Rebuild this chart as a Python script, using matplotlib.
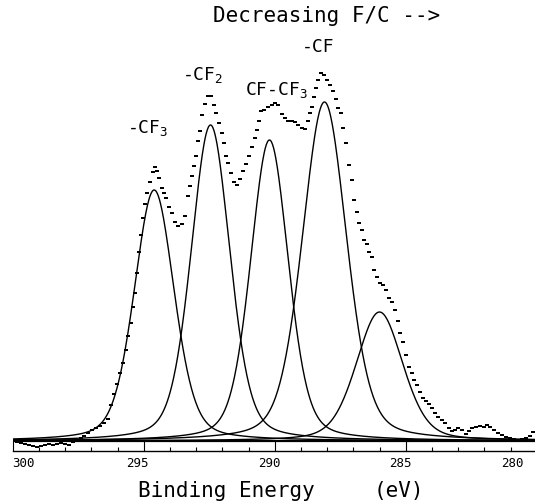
import numpy as np
import matplotlib
matplotlib.use("Agg")
import matplotlib.pyplot as plt
from matplotlib.transforms import ScaledTranslation

plt.rcParams['font.family'] = ['DejaVu Sans Mono', 'DejaVu Sans']
plt.rcParams['mathtext.fontset'] = 'custom'
plt.rcParams['mathtext.rm'] = 'DejaVu Sans Mono'
plt.rcParams['mathtext.it'] = 'DejaVu Sans Mono'

# measured C1s spectrum (binding energy in eV, intensity in a.u.)
energy = [299.99, 299.84, 299.68, 299.53, 299.38, 299.23, 299.07, 298.92, 298.77, 298.61,
          298.46, 298.31, 298.16, 298.00, 297.85, 297.70, 297.55, 297.39, 297.28, 297.13,
          296.97, 296.82, 296.67, 296.52, 296.36, 296.25, 296.13, 296.02, 295.90, 295.79,
          295.69, 295.60, 295.50, 295.41, 295.33, 295.26, 295.18, 295.10, 295.03, 294.95,
          294.87, 294.76, 294.65, 294.57, 294.49, 294.42, 294.30, 294.23, 294.15, 294.03,
          293.92, 293.81, 293.69, 293.54, 293.42, 293.31, 293.23, 293.16, 293.08, 293.00,
          292.93, 292.85, 292.77, 292.66, 292.55, 292.43, 292.32, 292.24, 292.13, 292.01,
          291.93, 291.86, 291.78, 291.67, 291.55, 291.44, 291.32, 291.21, 291.10, 290.98,
          290.87, 290.75, 290.68, 290.60, 290.52, 290.41, 290.26, 290.10, 289.99, 289.87,
          289.72, 289.61, 289.49, 289.34, 289.23, 289.11, 288.96, 288.84, 288.73, 288.65,
          288.58, 288.50, 288.42, 288.35, 288.23, 288.12, 288.00, 287.89, 287.77, 287.66,
          287.58, 287.47, 287.39, 287.28, 287.16, 287.05, 286.97, 286.86, 286.78, 286.67,
          286.59, 286.48, 286.40, 286.29, 286.21, 286.10, 285.98, 285.87, 285.75, 285.64,
          285.52, 285.41, 285.29, 285.22, 285.10, 284.99, 284.87, 284.76, 284.68, 284.57,
          284.45, 284.34, 284.23, 284.11, 284.00, 283.88, 283.77, 283.61, 283.50, 283.35,
          283.23, 283.12, 283.00, 282.85, 282.70, 282.58, 282.47, 282.32, 282.16, 282.01,
          281.90, 281.78, 281.63, 281.48, 281.32, 281.17, 281.02, 280.87, 280.71, 280.56,
          280.41, 280.26, 280.14]
counts = [1, -1, -2, -3, -4, -5, -6, -5, -4, -3,
          -4, -3, -2, -3, -4, -1, 1, 3, 5, 8,
          11, 13, 15, 18, 22, 36, 47, 57, 68, 78,
          91, 105, 118, 134, 148, 168, 189, 206, 223, 237,
          248, 259, 269, 274, 270, 263, 253, 248, 243, 234,
          228, 219, 215, 217, 225, 245, 255, 265, 275, 285,
          300, 310, 326, 337, 345, 345, 336, 328, 318, 308,
          298, 285, 278, 268, 259, 256, 262, 270, 277, 285,
          294, 303, 311, 320, 330, 331, 334, 336, 338, 336,
          327, 323, 320, 320, 319, 316, 313, 312, 320, 328,
          334, 344, 353, 361, 368, 366, 361, 356, 350, 342,
          333, 328, 313, 298, 276, 261, 241, 229, 218, 211,
          201, 197, 189, 184, 171, 164, 158, 156, 151, 143,
          139, 131, 120, 108, 99, 86, 74, 68, 61, 56,
          49, 43, 40, 37, 33, 28, 24, 21, 18, 13,
          10, 11, 13, 11, 7, 10, 13, 14, 15, 14,
          16, 14, 11, 8, 6, 4, 3, 2, 1, 2,
          3, 5, 9]

# fitted components
peak_names = ['-CF3', '-CF2', 'CF-CF3', '-CF', 'C-C']
peak_center = [294.6, 292.45, 290.2, 288.1, 286.0]
peak_height = [251, 316, 301, 339, 129]
peak_fwhm = [1.8, 1.75, 1.7, 2.0, 2.1]
lorentz_frac = 0.3

fig = plt.figure(figsize=(5.35, 5.04), dpi=100)
ax = fig.add_axes([0.02374, 0.10516, 0.97944, 0.89484])

x = np.linspace(300, 280, 1001)
for c, h, w in zip(peak_center, peak_height, peak_fwhm):
    u = (x - c) / w
    g = np.exp(-4 * np.log(2) * u ** 2)
    l = 1 / (1 + 4 * u ** 2)
    ax.plot(x, h * ((1 - lorentz_frac) * g + lorentz_frac * l), color='black', lw=1.0)

ax.axhline(0, color='black', lw=1.6)
# plotter dots are small flat dashes
dash = [(-1.4, -0.8), (1.4, -0.8), (1.4, 0.8), (-1.4, 0.8)]
ax.plot(energy, counts, ls='none', marker=dash, color='black', ms=3.4, mew=0)

ax.set_xlim(300, 280)
ax.set_ylim(-10, 441)
for s in ['left', 'right', 'top']:
    ax.spines[s].set_visible(False)
ax.spines['bottom'].set_linewidth(1.0)
ax.set_yticks([])
ax.set_xticks([300, 295, 290, 285, 280])
ax.set_xticklabels(['300', '295', '290', '285', '280'])
ax.set_xticks(np.arange(281, 300, 1), minor=True)
ax.tick_params(axis='x', which='major', direction='in', length=7, width=0.8, labelsize=9, pad=4.5)
ax.tick_params(axis='x', which='minor', direction='in', length=3, width=0.8)

# tick labels sit slightly off their ticks in the original
shifts = [11, -6, -5, -5, -24]
for lbl, dx in zip(ax.get_xticklabels(), shifts):
    lbl.set_transform(lbl.get_transform() + ScaledTranslation(dx / 100, 0, fig.dpi_scale_trans))

ax.text(295.64, 308, '-CF$_3$', fontsize=13, ha='left', va='baseline')
ax.text(293.53, 361, '-CF$_2$', fontsize=13, ha='left', va='baseline')
ax.text(291.13, 346, 'CF-CF$_3$', fontsize=13, ha='left', va='baseline')
ax.text(288.96, 389, '-CF', fontsize=13, ha='left', va='baseline')

fig.text(327 / 535, 1 - 16 / 504, 'Decreasing F/C -->', fontsize=15, ha='center', va='center')
fig.text(226 / 535, 1 - 491 / 504, 'Binding Energy', fontsize=15, ha='center', va='center')
fig.text(399 / 535, 1 - 491 / 504, '(eV)', fontsize=15, ha='center', va='center')

fig.savefig('out.png', dpi=100, facecolor='white')
